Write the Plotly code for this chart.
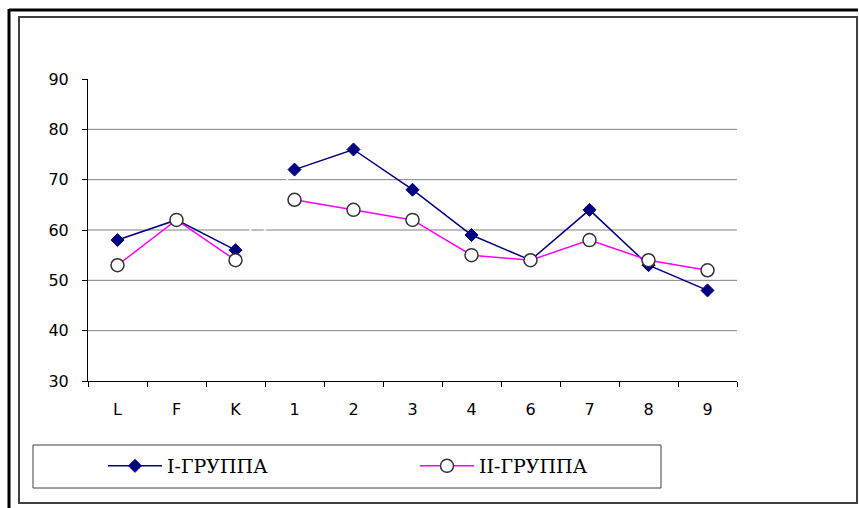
import plotly.graph_objects as go

categories = ["L", "F", "K", "1", "2", "3", "4", "6", "7", "8", "9"]
group1 = [58, 62, 56, 72, 76, 68, 59, 54, 64, 53, 48]
group2 = [53, 62, 54, 66, 64, 62, 55, 54, 58, 54, 52]
names = ["I-ГРУППА", "II-ГРУППА"]
y_ticks = [30, 40, 50, 60, 70, 80, 90]
grid_vals = [40, 50, 60, 70, 80]
break_after = 3  # line break between "K" and "1"

W, H = 859, 508
L, R, T, B = 88, 737, 79, 381


def px_x(p):
    return (p - L) / (R - L)


def px_y(p):
    return (B - p) / (B - T)


fig = go.Figure()

styles = [
    dict(line=dict(color="#000080", width=1.5),
         marker=dict(symbol="diamond", size=10, color="#000080",
                     line=dict(color="#000080", width=1))),
    dict(line=dict(color="#FF00FF", width=1.5),
         marker=dict(symbol="circle", size=13, color="white",
                     line=dict(color="#333333", width=1.5))),
]

for gi, vals in enumerate([group1, group2]):
    fig.add_trace(go.Scatter(
        x=categories[break_after - 1:break_after + 1],
        y=vals[break_after - 1:break_after + 1],
        mode="lines", line=dict(color="white", width=1.5),
        showlegend=False, hoverinfo="skip"))
for gi, (vals, name) in enumerate(zip([group1, group2], names)):
    st = styles[gi]
    fig.add_trace(go.Scatter(
        x=categories[:break_after], y=vals[:break_after],
        mode="lines+markers", name=name, legendgroup=name,
        line=st["line"], marker=st["marker"], showlegend=True))
    fig.add_trace(go.Scatter(
        x=categories[break_after:], y=vals[break_after:],
        mode="lines+markers", name=name, legendgroup=name,
        line=st["line"], marker=st["marker"], showlegend=False))

shapes = []
for g in grid_vals:
    shapes.append(dict(type="line", xref="paper", yref="y", x0=0, x1=1,
                       y0=g, y1=g, line=dict(color="#808080", width=1),
                       layer="below"))
shapes.append(dict(type="line", xref="paper", yref="paper",
                   x0=px_x(9), x1=px_x(858), y0=px_y(10), y1=px_y(10),
                   line=dict(color="black", width=3)))
shapes.append(dict(type="line", xref="paper", yref="paper",
                   x0=px_x(9), x1=px_x(9), y0=px_y(9), y1=px_y(512),
                   line=dict(color="black", width=3)))
shapes.append(dict(type="rect", xref="paper", yref="paper",
                   x0=px_x(19), x1=px_x(857), y0=px_y(17), y1=px_y(503),
                   line=dict(color="#404040", width=2)))
shapes.append(dict(type="rect", xref="paper", yref="paper",
                   x0=px_x(33), x1=px_x(661), y0=px_y(445), y1=px_y(488),
                   line=dict(color="#404040", width=1)))

fig.update_layout(
    width=W, height=H,
    margin=dict(l=L, r=W - R, t=T, b=H - B),
    paper_bgcolor="white", plot_bgcolor="white",
    shapes=shapes,
    showlegend=True,
    legend=dict(orientation="h", x=px_x(103), xanchor="left",
                y=px_y(466), yanchor="middle",
                font=dict(family="DejaVu Serif", size=19, color="black"),
                bgcolor="rgba(0,0,0,0)", borderwidth=0, itemwidth=54,
                entrywidth=243, entrywidthmode="pixels", traceorder="normal"),
    font=dict(family="DejaVu Sans", size=16, color="black"),
)
fig.update_xaxes(
    type="category", categoryorder="array", categoryarray=categories,
    range=[-0.5, len(categories) - 0.5],
    showgrid=False, showline=True, linecolor="black", linewidth=1,
    ticks="outside", ticklen=5, tickcolor="black", tickson="boundaries",
    ticklabelstandoff=14, zeroline=False,
    tickfont=dict(family="DejaVu Sans", size=16, color="black"),
)
fig.update_yaxes(
    range=[30, 90], tickvals=y_ticks, showgrid=False,
    showline=True, linecolor="black", linewidth=1,
    ticks="outside", ticklen=5, tickcolor="black",
    ticklabelstandoff=10, zeroline=False,
    tickfont=dict(family="DejaVu Sans", size=16, color="black"),
)

fig.write_html("out.html", config={"displayModeBar": False},
               post_script="document.body.style.margin='0px';")
